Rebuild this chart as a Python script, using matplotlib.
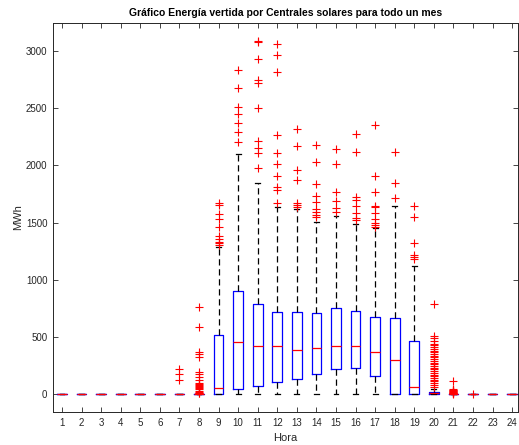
import matplotlib
matplotlib.use("Agg")
import matplotlib.pyplot as plt

plt.rcParams['font.family'] = ['Liberation Sans', 'DejaVu Sans']

hours = list(range(1, 25))
med = [0, 0, 0, 0, 0, 0, 0, 0, 50, 458, 420, 417, 385, 400, 417, 420, 370, 297, 59, 6, 0, 0, 0, 0]
q1 = [0, 0, 0, 0, 0, 0, 0, 0, 0, 41, 73, 102, 131, 178, 219, 227, 157, 4, 0, 0, 0, 0, 0, 0]
q3 = [0, 0, 0, 0, 0, 0, 0, 0, 516, 904, 787, 717, 720, 709, 752, 729, 677, 662, 466, 20, 0, 0, 0, 0]
whislo = [0] * 24
whishi = [0, 0, 0, 0, 0, 0, 0, 0, 1289, 2097, 1849, 1639, 1616, 1502, 1557, 1487, 1455, 1645, 1123, 45, 0, 0, 0, 0]

fliers = {
    7: [221, 172, 122],
    8: [764, 590, 365, 347, 327, 195, 175, 152, 122, 100, 90, 80, 70, 60, 50, 40, 30, 20, 10, 5],
    9: [1674, 1654, 1575, 1528, 1458, 1382, 1353, 1333, 1318, 1301],
    10: [2835, 2675, 2508, 2450, 2374, 2295, 2202],
    11: [3092, 3080, 2929, 2747, 2718, 2500, 2217, 2150, 2106, 1980],
    12: [3059, 2966, 2814, 2266, 2111, 2010, 1910, 1808, 1785, 1674],
    13: [2316, 2173, 1960, 1872, 1674, 1654, 1634],
    14: [2179, 2033, 1835, 1735, 1677, 1616, 1590, 1566, 1546],
    15: [2144, 2010, 1765, 1689, 1625, 1595],
    16: [2278, 2117, 1727, 1698, 1645, 1586, 1537, 1522],
    17: [2351, 1910, 1765, 1645, 1634, 1586, 1531, 1499, 1479, 1464],
    18: [2120, 1843, 1712],
    19: [1645, 1552, 1324, 1216, 1201, 1181],
    20: [787, 507, 487, 466, 440, 425, 410, 395, 380, 365, 350, 335, 320, 305,
         290, 275, 260, 245, 230, 215, 200, 185, 170, 155, 140, 125, 110, 95, 80, 65],
    21: [114, 40, 36, 32, 28, 24, 20, 16, 12, 8, 5, 3],
    22: [2],
}

stats = []
for i, h in enumerate(hours):
    stats.append(dict(med=med[i], q1=q1[i], q3=q3[i], whislo=whislo[i],
                      whishi=whishi[i], fliers=fliers.get(h, []), label=str(h)))

fig = plt.figure(figsize=(5.19, 4.45), dpi=100)
ax = fig.add_axes([0.1021, 0.0742, 0.896, 0.874])

gray = (0.15, 0.15, 0.15)
ax.bxp(stats, positions=hours, widths=0.5, capwidths=0.25,
       boxprops=dict(color='blue', linewidth=0.9),
       medianprops=dict(color='red', linewidth=0.9, zorder=4),
       whiskerprops=dict(color='black', linewidth=0.9, linestyle=(0, (5, 3))),
       capprops=dict(color='black', linewidth=0.9),
       flierprops=dict(marker='+', markeredgecolor='red', markersize=5.5,
                       markeredgewidth=0.8, linestyle='none'))

ax.set_xlim(0.54, 24.3)
ax.set_ylim(-157, 3246)
ax.set_xticks(hours)
ax.set_xticklabels([str(h) for h in hours])
ax.set_yticks([0, 500, 1000, 1500, 2000, 2500, 3000])

ax.tick_params(direction='in', length=3.5, width=0.6, colors=gray,
               labelsize=7, top=True, right=True, labeltop=False, labelright=False, pad=4)
for s in ax.spines.values():
    s.set_color(gray)
    s.set_linewidth(0.7)

ax.set_title('Gráfico Energía vertida por Centrales solares para todo un mes',
             fontsize=7.5, fontweight='bold', color='black', pad=5)
ax.set_xlabel('Hora', fontsize=8, color=gray, labelpad=4)
ax.set_ylabel('MWh', fontsize=8, color=gray, labelpad=2)

fig.savefig('out.png', dpi=100)
